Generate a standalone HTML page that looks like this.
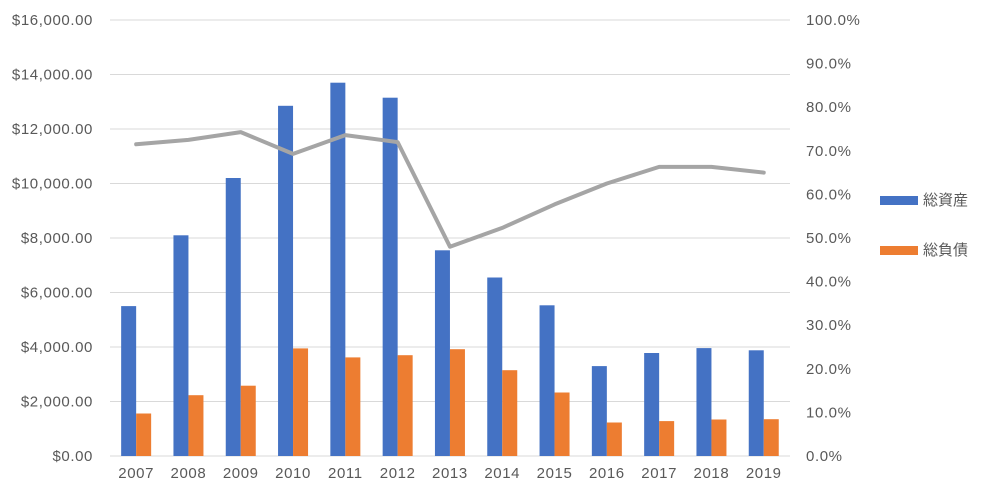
<!DOCTYPE html>
<html><head><meta charset="utf-8"><style>body{margin:0;background:#fff}svg{display:block}text{font-family:"Liberation Sans","Noto Sans CJK JP",sans-serif;font-size:15px;letter-spacing:0.6px;fill:#595959}</style></head><body>
<svg width="998" height="497" xmlns="http://www.w3.org/2000/svg">
<g stroke="#d9d9d9" stroke-width="1">
<line x1="110" x2="790" y1="20" y2="20"/><line x1="110" x2="790" y1="74.5" y2="74.5"/><line x1="110" x2="790" y1="129" y2="129"/><line x1="110" x2="790" y1="183.5" y2="183.5"/><line x1="110" x2="790" y1="238" y2="238"/><line x1="110" x2="790" y1="292.5" y2="292.5"/><line x1="110" x2="790" y1="347" y2="347"/><line x1="110" x2="790" y1="401.5" y2="401.5"/><line x1="110" x2="790" y1="456" y2="456"/>
</g>
<g text-anchor="end">
<text x="93" y="25">$16,000.00</text><text x="93" y="79.5">$14,000.00</text><text x="93" y="134">$12,000.00</text><text x="93" y="188.5">$10,000.00</text><text x="93" y="243">$8,000.00</text><text x="93" y="297.5">$6,000.00</text><text x="93" y="352">$4,000.00</text><text x="93" y="406.5">$2,000.00</text><text x="93" y="461">$0.00</text>
</g>
<g>
<text x="806" y="25">100.0%</text><text x="806" y="68.6">90.0%</text><text x="806" y="112.2">80.0%</text><text x="806" y="155.8">70.0%</text><text x="806" y="199.4">60.0%</text><text x="806" y="243">50.0%</text><text x="806" y="286.6">40.0%</text><text x="806" y="330.2">30.0%</text><text x="806" y="373.8">20.0%</text><text x="806" y="417.4">10.0%</text><text x="806" y="461">0.0%</text>
</g>
<g fill="#4472c4">
<rect x="121.15" y="306.1" width="15" height="149.9"/><rect x="173.45" y="235.3" width="15" height="220.7"/><rect x="225.75" y="178" width="15" height="278"/><rect x="278.05" y="105.8" width="15" height="350.2"/><rect x="330.35" y="82.7" width="15" height="373.3"/><rect x="382.65" y="97.7" width="15" height="358.3"/><rect x="434.95" y="250.3" width="15" height="205.7"/><rect x="487.25" y="277.5" width="15" height="178.5"/><rect x="539.55" y="305.3" width="15" height="150.7"/><rect x="591.85" y="366.1" width="15" height="89.9"/><rect x="644.15" y="353" width="15" height="103"/><rect x="696.45" y="348.1" width="15" height="107.9"/><rect x="748.75" y="350.3" width="15" height="105.7"/>
</g>
<g fill="#ed7d31">
<rect x="136.15" y="413.5" width="15" height="42.5"/><rect x="188.45" y="395.2" width="15" height="60.8"/><rect x="240.75" y="385.7" width="15" height="70.3"/><rect x="293.05" y="348.4" width="15" height="107.6"/><rect x="345.35" y="357.4" width="15" height="98.6"/><rect x="397.65" y="355.2" width="15" height="100.8"/><rect x="449.95" y="349.2" width="15" height="106.8"/><rect x="502.25" y="370.2" width="15" height="85.8"/><rect x="554.55" y="392.5" width="15" height="63.5"/><rect x="606.85" y="422.5" width="15" height="33.5"/><rect x="659.15" y="421.1" width="15" height="34.9"/><rect x="711.45" y="419.5" width="15" height="36.5"/><rect x="763.75" y="419.2" width="15" height="36.8"/>
</g>
<polyline points="136.15,144.3 188.45,139.9 240.75,132.1 293.05,153.9 345.35,135.1 397.65,142.1 449.95,246.7 502.25,227.9 554.55,204.4 606.85,183.5 659.15,166.9 711.45,166.9 763.75,172.6" fill="none" stroke="#a5a5a5" stroke-width="4" stroke-linejoin="round" stroke-linecap="round"/>
<g text-anchor="middle">
<text x="136.15" y="478">2007</text><text x="188.45" y="478">2008</text><text x="240.75" y="478">2009</text><text x="293.05" y="478">2010</text><text x="345.35" y="478">2011</text><text x="397.65" y="478">2012</text><text x="449.95" y="478">2013</text><text x="502.25" y="478">2014</text><text x="554.55" y="478">2015</text><text x="606.85" y="478">2016</text><text x="659.15" y="478">2017</text><text x="711.45" y="478">2018</text><text x="763.75" y="478">2019</text>
</g>
<rect x="880" y="196" width="38" height="9" fill="#4472c4"/><text x="923" y="205" style="font-size:15px;letter-spacing:0">総資産</text>
<rect x="880" y="246" width="38" height="9" fill="#ed7d31"/><text x="923" y="255" style="font-size:15px;letter-spacing:0">総負債</text>
</svg>
</body></html>
